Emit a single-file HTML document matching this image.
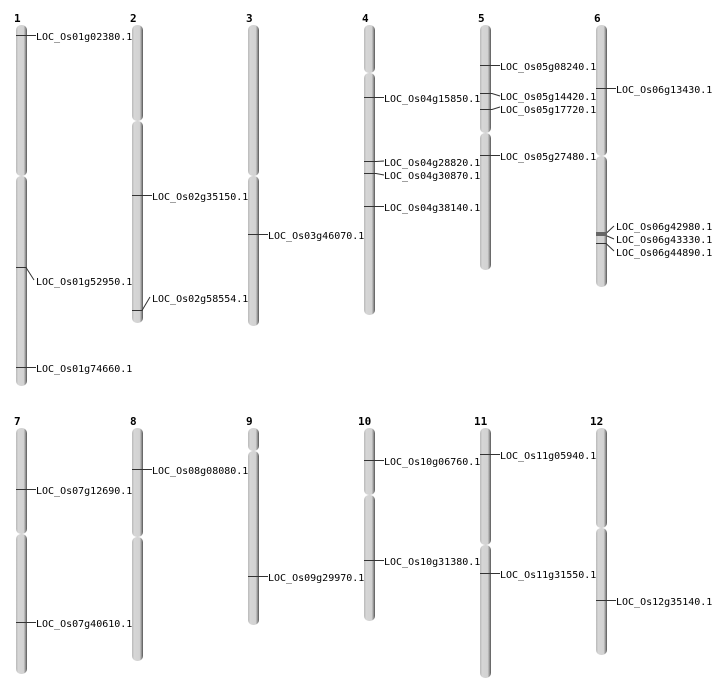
<!DOCTYPE html>
<html><head><meta charset="utf-8"><style>
html,body{margin:0;padding:0;background:#fff;}
svg{display:block;}
text{font-family:"DejaVu Sans Mono","Liberation Mono",monospace;font-size:10px;fill:#000;}
.n{font-family:"DejaVu Sans Mono","Liberation Mono",monospace;font-weight:bold;font-size:11px;}
</style></head><body>
<svg width="712" height="700" viewBox="0 0 712 700" xmlns="http://www.w3.org/2000/svg">
<defs>
<linearGradient id="g" x1="0" x2="1" y1="0" y2="0">
<stop offset="0" stop-color="#b8b8b8"/>
<stop offset="0.2" stop-color="#d6d6d6"/>
<stop offset="0.7" stop-color="#d2d2d2"/>
<stop offset="0.85" stop-color="#9a9a9a"/>
<stop offset="1" stop-color="#555"/>
</linearGradient>
</defs>
<g id="c">
<!-- chromosomes: x, segments -->
<rect x="16" y="25" width="11" height="151" rx="5" fill="url(#g)"/>
<rect x="16" y="176" width="11" height="210" rx="5" fill="url(#g)"/>
<rect x="132" y="25" width="11" height="96" rx="5" fill="url(#g)"/>
<rect x="132" y="121" width="11" height="202" rx="5" fill="url(#g)"/>
<rect x="248" y="25" width="11" height="151" rx="5" fill="url(#g)"/>
<rect x="248" y="176" width="11" height="150" rx="5" fill="url(#g)"/>
<rect x="364" y="25" width="11" height="48" rx="5" fill="url(#g)"/>
<rect x="364" y="73" width="11" height="242" rx="5" fill="url(#g)"/>
<rect x="480" y="25" width="11" height="108" rx="5" fill="url(#g)"/>
<rect x="480" y="133" width="11" height="137" rx="5" fill="url(#g)"/>
<rect x="596" y="25" width="11" height="131" rx="5" fill="url(#g)"/>
<rect x="596" y="156" width="11" height="131" rx="5" fill="url(#g)"/>

<rect x="16" y="428" width="11" height="106" rx="5" fill="url(#g)"/>
<rect x="16" y="534" width="11" height="140" rx="5" fill="url(#g)"/>
<rect x="132" y="428" width="11" height="109" rx="5" fill="url(#g)"/>
<rect x="132" y="537" width="11" height="124" rx="5" fill="url(#g)"/>
<rect x="248" y="428" width="11" height="23" rx="5" fill="url(#g)"/>
<rect x="248" y="451" width="11" height="174" rx="5" fill="url(#g)"/>
<rect x="364" y="428" width="11" height="67" rx="5" fill="url(#g)"/>
<rect x="364" y="495" width="11" height="126" rx="5" fill="url(#g)"/>
<rect x="480" y="428" width="11" height="117" rx="5" fill="url(#g)"/>
<rect x="480" y="545" width="11" height="133" rx="5" fill="url(#g)"/>
<rect x="596" y="428" width="11" height="100" rx="5" fill="url(#g)"/>
<rect x="596" y="528" width="11" height="127" rx="5" fill="url(#g)"/>
</g>
<g class="n">
<text class="n" x="14" y="22">1</text><text class="n" x="130" y="22">2</text><text class="n" x="246" y="22">3</text>
<text class="n" x="362" y="22">4</text><text class="n" x="478" y="22">5</text><text class="n" x="594" y="22">6</text>
<text class="n" x="14" y="425">7</text><text class="n" x="130" y="425">8</text><text class="n" x="246" y="425">9</text>
<text class="n" x="358" y="425">10</text><text class="n" x="474" y="425">11</text><text class="n" x="590" y="425">12</text>
</g>
<g stroke="#333" stroke-width="1" fill="none">
<path d="M16 35.5H36"/>
<path d="M16 267.5H26L34 280"/>
<path d="M16 367.5H36"/>
<path d="M132 195.5H152"/>
<path d="M132 310.5H142L150 297"/>
<path d="M248 234.5H268"/>
<path d="M364 97.5H384"/>
<path d="M364 161.5H376L384 161"/>
<path d="M364 173.5H376L384 175"/>
<path d="M364 206.5H384"/>
<path d="M480 65.5H500"/>
<path d="M480 93.5H492L500 96"/>
<path d="M480 109.5H492L500 107"/>
<path d="M480 155.5H500"/>
<path d="M596 88.5H616"/>
<path d="M596 233.5H606L614 226"/>
<path d="M596 235.5H606L614 239"/>
<path d="M596 243.5H606L614 251"/>
<path d="M16 489.5H36"/>
<path d="M16 622.5H36"/>
<path d="M132 469.5H152"/>
<path d="M248 576.5H268"/>
<path d="M364 460.5H384"/>
<path d="M364 560.5H384"/>
<path d="M480 454.5H500"/>
<path d="M480 573.5H500"/>
<path d="M596 600.5H616"/>
</g>
<rect x="596" y="232" width="11" height="4" fill="#666"/>
<g>
<text x="36" y="40">LOC_Os01g02380.1</text>
<text x="36" y="285">LOC_Os01g52950.1</text>
<text x="36" y="372">LOC_Os01g74660.1</text>
<text x="152" y="200">LOC_Os02g35150.1</text>
<text x="152" y="302">LOC_Os02g58554.1</text>
<text x="268" y="239">LOC_Os03g46070.1</text>
<text x="384" y="102">LOC_Os04g15850.1</text>
<text x="384" y="166">LOC_Os04g28820.1</text>
<text x="384" y="179">LOC_Os04g30870.1</text>
<text x="384" y="211">LOC_Os04g38140.1</text>
<text x="500" y="70">LOC_Os05g08240.1</text>
<text x="500" y="100">LOC_Os05g14420.1</text>
<text x="500" y="113">LOC_Os05g17720.1</text>
<text x="500" y="160">LOC_Os05g27480.1</text>
<text x="616" y="93">LOC_Os06g13430.1</text>
<text x="616" y="230">LOC_Os06g42980.1</text>
<text x="616" y="243">LOC_Os06g43330.1</text>
<text x="616" y="256">LOC_Os06g44890.1</text>
<text x="36" y="494">LOC_Os07g12690.1</text>
<text x="36" y="627">LOC_Os07g40610.1</text>
<text x="152" y="474">LOC_Os08g08080.1</text>
<text x="268" y="581">LOC_Os09g29970.1</text>
<text x="384" y="465">LOC_Os10g06760.1</text>
<text x="384" y="565">LOC_Os10g31380.1</text>
<text x="500" y="459">LOC_Os11g05940.1</text>
<text x="500" y="578">LOC_Os11g31550.1</text>
<text x="616" y="605">LOC_Os12g35140.1</text>
</g>
</svg>
</body></html>
